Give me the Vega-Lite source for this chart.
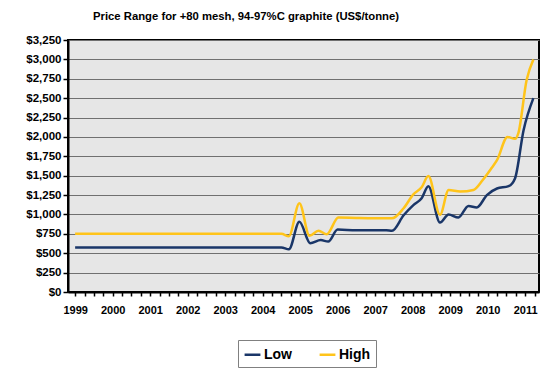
{
  "$schema": "https://vega.github.io/schema/vega-lite/v6.json",
  "width": 471,
  "height": 252,
  "autosize": {"type": "none"},
  "padding": {"left": 68, "top": 40, "right": 11, "bottom": 77},
  "background": "white",
  "title": {
    "text": "Price Range for +80 mesh, 94-97%C graphite (US$/tonne)",
    "anchor": "start",
    "frame": "group",
    "dx": 25,
    "offset": 12,
    "font": "Liberation Sans",
    "fontSize": 11.3,
    "fontWeight": "bold",
    "color": "#000000"
  },
  "config": {
    "view": {"fill": "#e6e6e6", "stroke": "#000000", "strokeWidth": 2},
    "font": "Liberation Sans"
  },
  "data": {
    "values": [
      {"year": 1999.0, "series": "Low", "price": 575},
      {"year": 2004.5, "series": "Low", "price": 575},
      {"year": 2004.7, "series": "Low", "price": 550},
      {"year": 2004.98, "series": "Low", "price": 905},
      {"year": 2005.27, "series": "Low", "price": 630},
      {"year": 2005.55, "series": "Low", "price": 670},
      {"year": 2005.75, "series": "Low", "price": 650},
      {"year": 2006.0, "series": "Low", "price": 805},
      {"year": 2006.5, "series": "Low", "price": 795},
      {"year": 2007.3, "series": "Low", "price": 795},
      {"year": 2007.45, "series": "Low", "price": 790},
      {"year": 2007.76, "series": "Low", "price": 990},
      {"year": 2008.02, "series": "Low", "price": 1120},
      {"year": 2008.24, "series": "Low", "price": 1210},
      {"year": 2008.42, "series": "Low", "price": 1365},
      {"year": 2008.73, "series": "Low", "price": 895},
      {"year": 2008.96, "series": "Low", "price": 1000},
      {"year": 2009.22, "series": "Low", "price": 960},
      {"year": 2009.49, "series": "Low", "price": 1110},
      {"year": 2009.71, "series": "Low", "price": 1090},
      {"year": 2009.98, "series": "Low", "price": 1250},
      {"year": 2010.25, "series": "Low", "price": 1335},
      {"year": 2010.56, "series": "Low", "price": 1365},
      {"year": 2010.73, "series": "Low", "price": 1465},
      {"year": 2010.96, "series": "Low", "price": 2090},
      {"year": 2011.22, "series": "Low", "price": 2500},
      {"year": 1999.0, "series": "High", "price": 750},
      {"year": 2004.5, "series": "High", "price": 750},
      {"year": 2004.7, "series": "High", "price": 720},
      {"year": 2004.98, "series": "High", "price": 1145},
      {"year": 2005.25, "series": "High", "price": 725},
      {"year": 2005.49, "series": "High", "price": 790},
      {"year": 2005.71, "series": "High", "price": 745},
      {"year": 2006.02, "series": "High", "price": 960},
      {"year": 2006.5, "series": "High", "price": 955},
      {"year": 2007.3, "series": "High", "price": 950},
      {"year": 2007.45, "series": "High", "price": 950},
      {"year": 2007.76, "series": "High", "price": 1080},
      {"year": 2008.02, "series": "High", "price": 1260},
      {"year": 2008.24, "series": "High", "price": 1350},
      {"year": 2008.42, "series": "High", "price": 1495},
      {"year": 2008.73, "series": "High", "price": 995},
      {"year": 2008.96, "series": "High", "price": 1315},
      {"year": 2009.27, "series": "High", "price": 1295},
      {"year": 2009.62, "series": "High", "price": 1315},
      {"year": 2009.87, "series": "High", "price": 1445},
      {"year": 2010.1, "series": "High", "price": 1595},
      {"year": 2010.25, "series": "High", "price": 1700},
      {"year": 2010.53, "series": "High", "price": 2000},
      {"year": 2010.73, "series": "High", "price": 1975},
      {"year": 2010.82, "series": "High", "price": 2050},
      {"year": 2011.04, "series": "High", "price": 2735},
      {"year": 2011.22, "series": "High", "price": 3000}
    ]
  },
  "mark": {"type": "line", "interpolate": "monotone", "strokeWidth": 2.5},
  "encoding": {
    "x": {
      "field": "year",
      "type": "quantitative",
      "scale": {"domain": [1998.81, 2011.37], "nice": false, "zero": false},
      "axis": {
        "title": null,
        "values": [1999, 1999.25, 1999.5, 1999.75, 2000, 2000.25, 2000.5, 2000.75, 2001, 2001.25, 2001.5, 2001.75, 2002, 2002.25, 2002.5, 2002.75, 2003, 2003.25, 2003.5, 2003.75, 2004, 2004.25, 2004.5, 2004.75, 2005, 2005.25, 2005.5, 2005.75, 2006, 2006.25, 2006.5, 2006.75, 2007, 2007.25, 2007.5, 2007.75, 2008, 2008.25, 2008.5, 2008.75, 2009, 2009.25, 2009.5, 2009.75, 2010, 2010.25, 2010.5, 2010.75, 2011, 2011.25],
        "labelExpr": "datum.value % 1 == 0 ? format(datum.value, 'd') : ''",
        "labelOverlap": false,
        "labelFont": "Liberation Sans",
        "labelFontSize": 11,
        "labelFontWeight": "bold",
        "labelColor": "#000000",
        "labelPadding": 8,
        "tickSize": 4,
        "tickColor": "#000000",
        "tickWidth": 1.5,
        "domainColor": "#000000",
        "domainWidth": 2,
        "grid": false
      }
    },
    "y": {
      "field": "price",
      "type": "quantitative",
      "scale": {"domain": [0, 3250], "nice": false},
      "axis": {
        "title": null,
        "values": [0, 250, 500, 750, 1000, 1250, 1500, 1750, 2000, 2250, 2500, 2750, 3000, 3250],
        "format": "$,.0f",
        "labelFont": "Liberation Sans",
        "labelFontSize": 11.5,
        "labelFontWeight": "bold",
        "labelColor": "#000000",
        "labelPadding": 2,
        "tickSize": 5,
        "tickColor": "#000000",
        "tickWidth": 1.5,
        "domainColor": "#000000",
        "domainWidth": 2,
        "grid": true,
        "gridColor": "#707070",
        "gridWidth": 1
      }
    },
    "color": {
      "field": "series",
      "type": "nominal",
      "scale": {"domain": ["Low", "High"], "range": ["#1a3668", "#ffc41a"]},
      "legend": {
        "title": null,
        "orient": "none",
        "legendX": 170,
        "legendY": 300,
        "direction": "horizontal",
        "strokeColor": "#808080",
        "fillColor": "#ffffff",
        "padding": 5,
        "symbolType": "stroke",
        "symbolStrokeWidth": 2.5,
        "symbolSize": 250,
        "labelFont": "Liberation Sans",
        "labelFontSize": 14,
        "labelFontWeight": "bold",
        "labelColor": "#000000",
        "columnPadding": 22,
        "labelOffset": 2
      }
    }
  }
}
